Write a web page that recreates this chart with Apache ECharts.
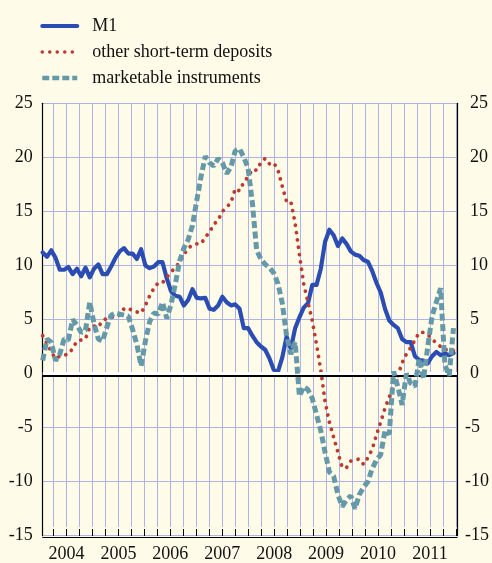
<!DOCTYPE html>
<html>
<head>
<meta charset="utf-8">
<script src="https://cdn.jsdelivr.net/npm/echarts@6/dist/echarts.min.js"></script>
<style>
html,body{margin:0;padding:0;background:#FEFCE8;}
#c{width:492px;height:563px;}
</style>
</head>
<body>
<div id="c"></div>
<script>
// Monthly observations, index 0 .. 96 (left edge of the plot to the last point)
const years = ['2004','2005','2006','2007','2008','2009','2010','2011'];
const yTicks = [-15,-10,-5,0,5,10,15,20,25];
const seriesNames = ['M1','other short-term deposits','marketable instruments'];

const m1 = [11.2,10.8,11.4,10.7,9.6,9.6,9.85,9.2,9.7,9.0,9.8,8.9,
  9.7,10.1,9.2,9.2,9.9,10.7,11.3,11.6,11.1,11.1,10.6,11.5,
  10.0,9.75,9.9,10.3,10.3,8.8,7.6,7.2,7.1,6.3,6.8,7.8,
  7.0,6.95,7.0,6.0,5.9,6.3,7.1,6.6,6.3,6.4,6.0,4.2,
  4.2,3.5,2.9,2.5,2.2,1.4,0.35,0.2,1.5,3.4,2.3,4.2,
  5.2,6.1,6.5,8.2,8.2,9.7,12.2,13.3,12.8,11.8,12.5,12.0,
  11.3,11.0,10.9,10.5,10.35,9.5,8.4,7.5,6.0,4.9,4.5,4.2,
  3.2,2.9,2.9,1.6,1.25,1.2,0.95,1.6,2.0,1.7,1.85,1.7,
  1.9];

const otherDeposits = [3.5,2.8,2.0,1.4,1.6,1.7,1.8,2.3,3.0,3.1,3.2,4.3,
  4.4,4.3,4.9,5.1,5.2,5.3,5.4,6.0,6.05,5.8,5.7,5.6,
  6.3,7.2,7.9,8.4,8.4,8.9,9.4,9.8,10.3,11.0,11.6,11.9,
  12.0,12.0,12.6,13.1,13.8,14.2,15.0,15.4,15.8,17.1,16.9,17.7,
  18.2,18.9,18.8,19.5,19.9,19.4,19.5,18.8,17.3,15.9,15.9,13.9,
  11.0,8.3,6.6,4.9,2.7,0.3,-2.6,-4.5,-5.9,-7.3,-8.7,-8.7,
  -8.1,-8.0,-7.9,-8.4,-7.8,-7.0,-5.7,-4.5,-3.2,-2.2,-1.0,-0.2,
  1.0,1.8,2.4,3.1,3.8,3.8,3.6,3.2,2.8,2.5,2.2,2.2,
  2.1];

const marketable = [1.2,3.2,2.9,1.2,1.8,3.2,3.1,5.0,4.5,3.8,4.0,6.6,
  4.6,3.2,3.0,4.3,5.4,5.6,5.5,5.4,5.3,4.1,2.7,0.7,
  3.0,4.8,5.6,5.5,6.6,5.1,6.4,8.3,10.4,11.6,12.4,13.7,
  16.0,18.2,20.1,19.5,19.2,19.9,19.5,18.5,19.1,20.6,20.8,20.0,
  19.0,15.8,11.4,10.6,10.1,9.8,9.3,8.3,6.5,3.5,1.8,2.9,
  -2.1,-1.2,-1.5,-2.3,-3.8,-5.3,-7.3,-9.1,-9.5,-11.2,-12.3,-11.7,
  -11.3,-12.5,-11.2,-10.5,-10.0,-8.8,-8.0,-7.5,-5.3,-5.6,0.2,-1.2,
  -2.9,0.0,-0.9,-1.2,1.4,-0.5,2.5,5.3,6.6,7.9,0.8,-0.2,
  4.2];

const toPairs = arr => arr.map((v, i) => [i, v]);

const FONT = 'Liberation Serif';
const GRID_COLOR = '#AEB3E6';
const MONTH_PX = 4.327;
const PLOT_LEFT = 42.7, PLOT_TOP = 103.3, PLOT_H = 432.4, PLOT_W = 419;
const C_M1 = '#2B4DB3', C_OTHER = '#BC3A2F', C_MKT = '#6598A9';
const LS_M1 = {color: C_M1, width: 4.2, join: 'round', cap: 'round'};
const LS_OTHER = {color: C_OTHER, width: 3.8, type: [0.01, 7.4], cap: 'round'};
const LS_MKT = {color: C_MKT, width: 5, type: [7, 3.5], cap: 'butt'};

const chart = echarts.init(document.getElementById('c'), null, {renderer: 'canvas'});
chart.setOption({
  backgroundColor: '#FEFCE8',
  animation: false,
  legend: {
    data: [
      {name: seriesNames[0], lineStyle: {width: 4, color: C_M1, type: 'solid'}},
      {name: seriesNames[1], lineStyle: {width: 3.6, color: C_OTHER, type: [0.01, 7.5], cap: 'round'}},
      {name: seriesNames[2], lineStyle: {width: 4.5, color: C_MKT, type: [7, 3], cap: 'butt'}}
    ],
    orient: 'vertical',
    left: 40, top: 17, padding: 0,
    itemWidth: 35, itemHeight: 14, itemGap: 8,
    itemStyle: {opacity: 0},
    textStyle: {fontFamily: FONT, fontSize: 18, color: '#111', padding: [0,0,0,10], lineHeight: 14}
  },
  grid: [
    {left: PLOT_LEFT, top: PLOT_TOP, width: PLOT_W, height: PLOT_H},
    {left: PLOT_LEFT + 2.5 * MONTH_PX, top: PLOT_TOP, width: 93 * MONTH_PX, height: PLOT_H}
  ],
  xAxis: [
    {gridIndex: 0, type: 'value', min: 0, max: 96.83, offset: 2,
      axisLine: {show: true, onZero: false, lineStyle: {color: '#000', width: 1}},
      axisTick: {show: false}, axisLabel: {show: false}, splitLine: {show: false}},
    {gridIndex: 1, type: 'value', min: 3, max: 96, interval: 3, offset: 2,
      axisLine: {show: false, onZero: false},
      axisTick: {show: true, length: 7, lineStyle: {color: '#000', width: 1}},
      axisLabel: {show: true, margin: 16, fontFamily: FONT, fontSize: 18, color: '#111',
        formatter: v => ((v - 6) % 12 === 0 ? years[(v - 6) / 12] : '')},
      splitLine: {show: true, lineStyle: {color: GRID_COLOR, width: 1}}}
  ],
  yAxis: [
    {gridIndex: 0, type: 'value', min: -15, max: 25, interval: 5, position: 'left',
      axisLine: {show: true, lineStyle: {color: '#000', width: 1.2}},
      axisTick: {show: false},
      axisLabel: {margin: 10, fontFamily: FONT, fontSize: 18, color: '#111',
        formatter: v => (yTicks.includes(v) ? String(v) : '')},
      splitLine: {show: true, lineStyle: {color: GRID_COLOR, width: 1}}},
    {gridIndex: 0, type: 'value', min: -15, max: 25, interval: 5, position: 'right',
      axisLine: {show: true, lineStyle: {color: '#000', width: 1.2}},
      axisTick: {show: false},
      axisLabel: {margin: 8, fontFamily: FONT, fontSize: 18, color: '#111', align: 'left',
        formatter: v => (yTicks.includes(v) ? (v < 0 ? '{n|' + v + '}' : '{p|' + v + '}') : ''),
        rich: {
          n: {fontFamily: FONT, fontSize: 18, color: '#111'},
          p: {fontFamily: FONT, fontSize: 18, color: '#111', padding: [0, 0, 0, 5]}
        }},
      splitLine: {show: false}},
    {gridIndex: 1, type: 'value', min: -15, max: 25, show: false}
  ],
  series: [
    {name: 'zero', type: 'line', xAxisIndex: 0, yAxisIndex: 0, data: [], z: 1, silent: true,
      markLine: {silent: true, symbol: 'none', label: {show: false}, animation: false,
        lineStyle: {color: '#ffffff', width: 3, type: 'solid', shadowColor: '#000000', shadowBlur: 0, shadowOffsetY: 2},
        data: [{yAxis: 0}]}},
    {name: seriesNames[0], type: 'line', xAxisIndex: 0, yAxisIndex: 0, data: toPairs(m1),
      symbol: 'none', z: 3, lineStyle: LS_M1, itemStyle: {color: C_M1}},
    {name: seriesNames[1], type: 'line', xAxisIndex: 0, yAxisIndex: 0, data: toPairs(otherDeposits),
      symbol: 'none', z: 4, lineStyle: LS_OTHER, itemStyle: {color: C_OTHER}},
    {name: seriesNames[2], type: 'line', xAxisIndex: 0, yAxisIndex: 0, data: toPairs(marketable),
      symbol: 'none', z: 5, lineStyle: LS_MKT, itemStyle: {color: C_MKT}}
  ]
});
</script>
</body>
</html>
